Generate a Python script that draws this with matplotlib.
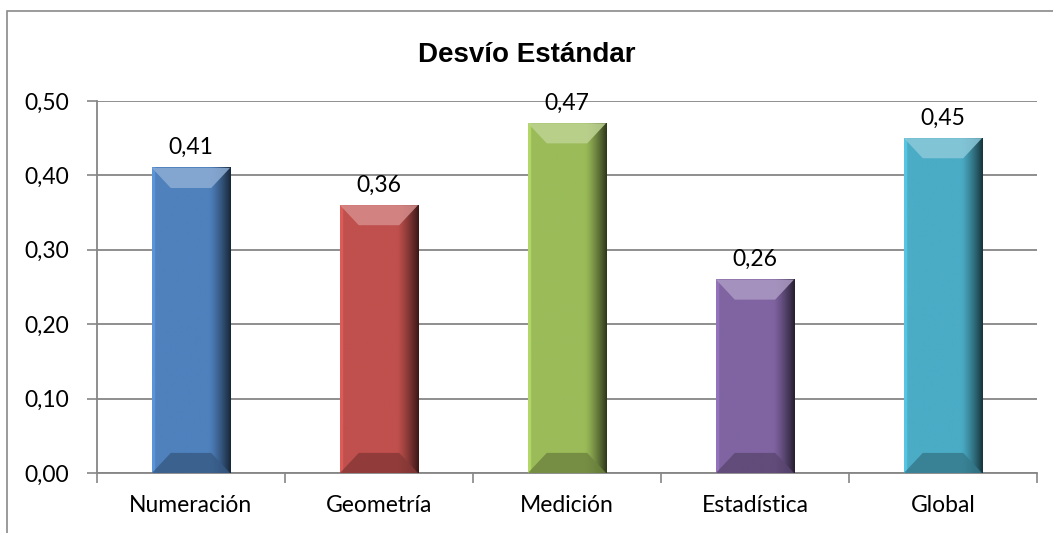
import numpy as np
import matplotlib.pyplot as plt
from matplotlib.patches import Polygon, Rectangle
from matplotlib.ticker import FuncFormatter, MultipleLocator
from matplotlib.colors import to_rgb

categorias = ['Numeración', 'Geometría', 'Medición', 'Estadística', 'Global']
valores = [0.41, 0.36, 0.47, 0.26, 0.45]
colores = ['#4F81BD', '#C0504D', '#9BBB59', '#8064A2', '#4BACC6']

plt.rcParams['font.family'] = ['Lato', 'DejaVu Sans']

fig = plt.figure(figsize=(10.53, 5.33), dpi=100)
ax = fig.add_axes([0.0921, 0.1126, 0.8927, 0.698])

# marco exterior del gráfico (se sale por la derecha y por abajo)
fig.patches.append(Rectangle((7 / 1053, -0.1), 1.2, 1.1 - 11 / 533,
                             transform=fig.transFigure, fill=False,
                             edgecolor='#8a8a8a', linewidth=1.2))

x = np.arange(len(categorias))
ancho = 0.415
barras = ax.bar(x, valores, width=ancho, color=colores, edgecolor='#9aa6b4',
                linewidth=0.6, zorder=2)


def mezcla(c, otro, t):
    c = np.array(to_rgb(c))
    return tuple(c * (1 - t) + np.array(otro) * t)


# sombreado tipo bisel
bx, by = 0.1, 0.027
for b, c in zip(barras, colores):
    x0, w, h = b.get_x(), b.get_width(), b.get_height()
    t = np.linspace(0, 1, 200)
    f = np.ones_like(t)
    f[t < 0.04] = 1.15
    oscuro = t > 0.72
    f[oscuro] = 1 - 0.7 * ((t[oscuro] - 0.72) / 0.28) ** 1.3
    base = np.array(to_rgb(c))
    img = np.clip(base[None, :] * f[:, None], 0, 1)[None, :, :]
    ax.imshow(img, extent=[x0, x0 + w, 0, h], aspect='auto', zorder=3,
              interpolation='bilinear')
    arriba = Polygon([[x0, h], [x0 + w, h], [x0 + w - bx, h - by], [x0 + bx, h - by]],
                     closed=True, facecolor=mezcla(c, (1, 1, 1), 0.35),
                     edgecolor='none', alpha=0.85, zorder=4)
    abajo = Polygon([[x0, 0], [x0 + w, 0], [x0 + w - bx, by], [x0 + bx, by]],
                    closed=True, facecolor=mezcla(c, (0, 0, 0), 0.3),
                    edgecolor='none', alpha=0.8, zorder=4)
    ax.add_patch(arriba)
    ax.add_patch(abajo)
    ax.annotate(f'{h:.2f}'.replace('.', ','), (x0 + w / 2, h),
                xytext=(0, 7), textcoords='offset points',
                ha='center', va='bottom', fontsize=16.5, zorder=5)

ax.set_xlim(-0.5, len(categorias) - 0.5)
ax.set_ylim(0, 0.5)
ax.yaxis.set_major_locator(MultipleLocator(0.1))
ax.yaxis.set_major_formatter(FuncFormatter(lambda v, p: f'{v:.2f}'.replace('.', ',')))
ax.set_xticks(x)
ax.set_xticklabels(categorias)
ax.set_xticks(np.arange(-0.5, len(categorias)), minor=True)
ax.tick_params(axis='x', which='major', length=0, pad=16, labelsize=16.5)
ax.tick_params(axis='x', which='minor', length=7, color='#868686', width=1.2)
ax.tick_params(axis='y', length=7, color='#868686', width=1.2, pad=13, labelsize=16.5)

ax.set_axisbelow(True)
ax.yaxis.grid(True, color='#868686', linewidth=1.3)
for s in ['top', 'right']:
    ax.spines[s].set_visible(False)
for s in ['left', 'bottom']:
    ax.spines[s].set_color('#868686')
    ax.spines[s].set_linewidth(1.3)

fig.text(0.5, 1 - 55 / 533, 'Desvío Estándar', ha='center', va='center',
         fontsize=20, fontweight='bold', family=['Liberation Sans', 'DejaVu Sans'])

fig.savefig('out.png', dpi=100)
